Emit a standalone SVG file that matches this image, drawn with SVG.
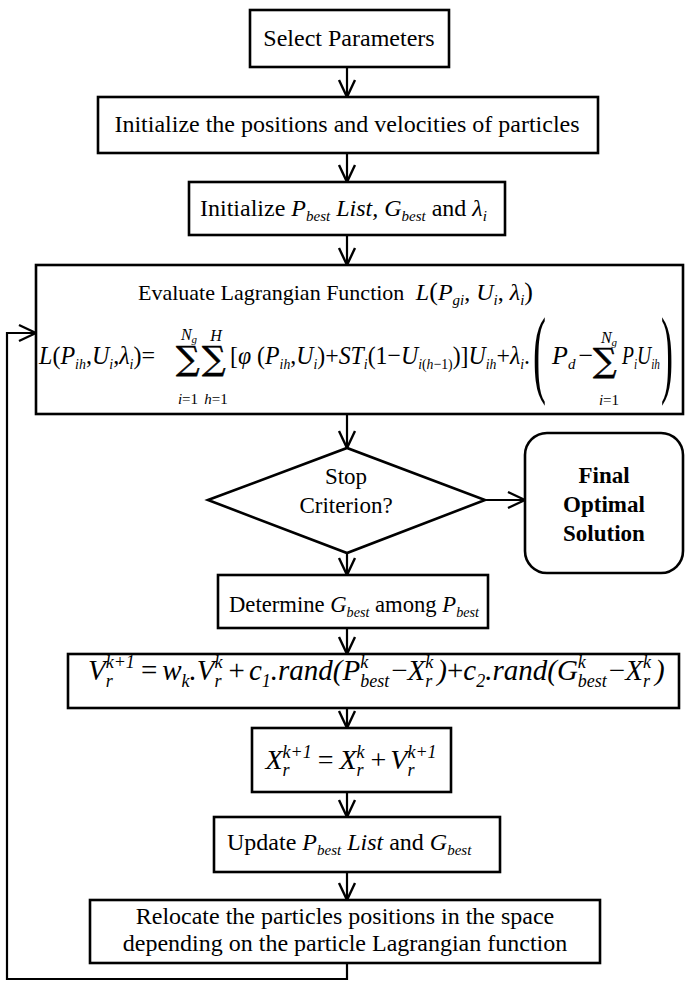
<svg xmlns="http://www.w3.org/2000/svg" width="685" height="981" viewBox="0 0 685 981">
<defs>
<style>
.box{fill:#fff;stroke:#000;stroke-width:2.6}
.t{font-family:"Liberation Serif","Times New Roman",serif;font-size:24px;fill:#000}
.m{font-family:"Liberation Serif","Times New Roman",serif;font-style:italic;fill:#000}
.u{font-style:normal}
.s{font-size:15px}
.s2{font-size:18px}
.lim{font-family:"Liberation Serif","Times New Roman",serif;font-size:15px;fill:#000}
.sig{font-family:"DejaVu Serif","Liberation Serif",serif;font-size:33px;fill:#000;stroke:#000;stroke-width:0.6}
.b{font-weight:bold;font-size:23px}
.con{fill:none;stroke:#000;stroke-width:2.2}
</style>
<marker id="ah" viewBox="0 0 20 20" refX="19" refY="10" markerWidth="20" markerHeight="20" markerUnits="userSpaceOnUse" orient="auto">
<path d="M2,2 L19,10 L2,18" fill="none" stroke="#000" stroke-width="2.4"/>
</marker>
</defs>
<rect width="685" height="981" fill="#fff"/>

<g id="select"><rect class="box" x="250" y="10" width="199" height="57"/><text class="t" x="349" y="46" text-anchor="middle">Select Parameters</text></g>

<g id="init"><rect class="box" x="98" y="97" width="500" height="56"/><text class="t" x="347" y="132" text-anchor="middle">Initialize the positions and velocities of particles</text></g>

<g id="init-best"><rect class="box" x="189" y="182" width="316" height="53"/><text class="t" x="200" y="216">Initialize <tspan class="m">P</tspan><tspan class="m s" dy="5">best</tspan><tspan class="m" dy="-5"> List, G</tspan><tspan class="m s" dy="5">best</tspan><tspan dy="-5"> and </tspan><tspan class="m">λ</tspan><tspan class="m s" dy="5">i</tspan></text></g>

<g id="evaluate"><rect class="box" x="36" y="265" width="647" height="149"/>
<text class="t" x="138" y="300" style="font-size:22px">Evaluate Lagrangian Function <tspan class="m" dx="6" style="font-size:24px">L</tspan><tspan style="font-size:26px">(</tspan><tspan class="m" style="font-size:24px">P</tspan><tspan class="m s" dy="5">gi</tspan><tspan dy="-5" style="font-size:24px">, </tspan><tspan class="m" style="font-size:24px">U</tspan><tspan class="m s" dy="5">i</tspan><tspan dy="-5" style="font-size:24px">, </tspan><tspan class="m" style="font-size:24px">λ</tspan><tspan class="m s" dy="5">i</tspan><tspan dy="-5" style="font-size:26px">)</tspan></text>
<text class="m" x="39" y="364" style="font-size:26px" textLength="116" lengthAdjust="spacingAndGlyphs">L<tspan class="u">(</tspan>P<tspan class="s" dy="5">ih</tspan><tspan class="u" dy="-5">,</tspan>U<tspan class="s" dy="5">i</tspan><tspan class="u" dy="-5">,</tspan>λ<tspan class="s" dy="5">i</tspan><tspan class="u" dy="-5">)=</tspan></text>
<text class="sig" x="176" y="370">∑</text>
<text class="sig" x="202" y="370">∑</text>
<text class="m" x="189" y="340" text-anchor="middle" style="font-size:16px">N<tspan style="font-size:11px" dy="3">g</tspan></text>
<text class="m" x="216" y="341" text-anchor="middle" style="font-size:16px">H</text>
<text class="lim" x="188" y="404" text-anchor="middle"><tspan class="m">i</tspan>=1</text>
<text class="lim" x="216" y="404" text-anchor="middle"><tspan class="m">h</tspan>=1</text>
<text class="m" x="230" y="364" style="font-size:26px" textLength="300" lengthAdjust="spacingAndGlyphs"><tspan class="u">[</tspan>φ<tspan class="u"> (</tspan>P<tspan class="s" dy="5">ih</tspan><tspan class="u" dy="-5">,</tspan>U<tspan class="s" dy="5">i</tspan><tspan class="u" dy="-5">)+</tspan>ST<tspan class="s" dy="5">i</tspan><tspan class="u" dy="-5">(1−</tspan>U<tspan class="s" dy="5">i<tspan class="u">(</tspan>h<tspan class="u">−1)</tspan></tspan><tspan class="u" dy="-5">)]</tspan>U<tspan class="s" dy="5">ih</tspan><tspan class="u" dy="-5">+</tspan>λ<tspan class="s" dy="5">i</tspan><tspan class="u" dy="-5">.</tspan></text>
<text class="t" x="533" y="385" style="font-size:97px" textLength="13" lengthAdjust="spacingAndGlyphs">(</text>
<text class="m" x="552" y="364" style="font-size:26px">P<tspan class="s" dy="5">d</tspan><tspan class="u" dy="-5" dx="3">−</tspan></text>
<text class="sig" x="593" y="372">∑</text>
<text class="m" x="609" y="343" text-anchor="middle" style="font-size:16px">N<tspan style="font-size:11px" dy="3">g</tspan></text>
<text class="lim" x="609" y="405" text-anchor="middle"><tspan class="m">i</tspan>=1</text>
<text class="m" x="622" y="364" style="font-size:26px" textLength="38" lengthAdjust="spacingAndGlyphs">P<tspan class="s" dy="5">i</tspan><tspan dy="-5">U</tspan><tspan class="s" dy="5">ih</tspan></text>
<text class="t" x="661" y="385" style="font-size:97px" textLength="12" lengthAdjust="spacingAndGlyphs">)</text>
</g>

<g id="stop"><polygon class="box" points="208,500 347,448 485,500 347,553"/><text class="t" x="346" y="484" text-anchor="middle" style="font-size:23px">Stop</text><text class="t" x="346" y="513" text-anchor="middle" style="font-size:23px">Criterion?</text></g>

<g id="final"><rect class="box" x="525" y="433" width="158" height="140" rx="22"/><text class="t b" x="604" y="483" text-anchor="middle">Final</text><text class="t b" x="604" y="512" text-anchor="middle">Optimal</text><text class="t b" x="604" y="541" text-anchor="middle">Solution</text></g>

<g id="determine"><rect class="box" x="218" y="575" width="270" height="53"/><text class="t" x="229" y="612" textLength="250" lengthAdjust="spacingAndGlyphs">Determine <tspan class="m">G</tspan><tspan class="m s" dy="5">best</tspan><tspan dy="-5"> among </tspan><tspan class="m">P</tspan><tspan class="m s" dy="5">best</tspan></text></g>

<g id="velocity"><rect class="box" x="68" y="654" width="611" height="54"/><text class="m" x="88" y="680" style="font-size:29px">V<tspan class="s2" dy="7">r</tspan><tspan class="s2" dx="-7" dy="-19">k+1</tspan><tspan class="u" dx="6" dy="12">=</tspan><tspan dx="5">w</tspan><tspan class="s2" dy="7">k</tspan><tspan dy="-7">.V</tspan><tspan class="s2" dy="7">r</tspan><tspan class="s2" dx="-7" dy="-19">k</tspan><tspan class="u" dx="6" dy="12">+</tspan><tspan dx="4">c</tspan><tspan class="s2" dy="7">1</tspan><tspan dy="-7">.rand(P</tspan><tspan class="s2" dy="-12">k</tspan><tspan class="s2" dx="-8" dy="19">best</tspan><tspan class="u" dx="2" dy="-7">−</tspan><tspan>X</tspan><tspan class="s2" dy="7">r</tspan><tspan class="s2" dx="-7" dy="-19">k</tspan><tspan dx="4" dy="12">)</tspan><tspan class="u">+</tspan><tspan>c</tspan><tspan class="s2" dy="7">2</tspan><tspan dy="-7">.rand(G</tspan><tspan class="s2" dy="-12">k</tspan><tspan class="s2" dx="-8" dy="19">best</tspan><tspan class="u" dx="2" dy="-7">−</tspan><tspan>X</tspan><tspan class="s2" dy="7">r</tspan><tspan class="s2" dx="-7" dy="-19">k</tspan><tspan dx="4" dy="12">)</tspan></text></g>

<g id="position"><rect class="box" x="252" y="728" width="199" height="64"/><text class="m" x="351" y="769" text-anchor="middle" style="font-size:28px">X<tspan class="s2" dy="7">r</tspan><tspan class="s2" dx="-7" dy="-18">k+1</tspan><tspan class="u" dx="6" dy="11">=</tspan><tspan dx="6">X</tspan><tspan class="s2" dy="7">r</tspan><tspan class="s2" dx="-7" dy="-18">k</tspan><tspan class="u" dx="6" dy="11">+</tspan><tspan dx="4">V</tspan><tspan class="s2" dy="7">r</tspan><tspan class="s2" dx="-7" dy="-18">k+1</tspan></text></g>

<g id="update"><rect class="box" x="214" y="817" width="286" height="55"/><text class="t" x="227" y="850">Update <tspan class="m">P</tspan><tspan class="m s" dy="5">best</tspan><tspan class="m" dy="-5"> List</tspan><tspan> and </tspan><tspan class="m">G</tspan><tspan class="m s" dy="5">best</tspan></text></g>

<g id="relocate"><rect class="box" x="90" y="900" width="510" height="63"/><text class="t" x="345" y="924" text-anchor="middle">Relocate the particles positions in the space</text><text class="t" x="345" y="951" text-anchor="middle">depending on the particle Lagrangian function</text></g>

<g id="connectors">
<line class="con" x1="347" y1="67" x2="347" y2="97" marker-end="url(#ah)"/>
<line class="con" x1="347" y1="153" x2="347" y2="182" marker-end="url(#ah)"/>
<line class="con" x1="347" y1="235" x2="347" y2="265" marker-end="url(#ah)"/>
<line class="con" x1="347" y1="414" x2="347" y2="448" marker-end="url(#ah)"/>
<line class="con" x1="485" y1="500" x2="525" y2="500" marker-end="url(#ah)"/>
<line class="con" x1="347" y1="553" x2="347" y2="575" marker-end="url(#ah)"/>
<line class="con" x1="347" y1="628" x2="347" y2="654" marker-end="url(#ah)"/>
<line class="con" x1="347" y1="708" x2="347" y2="728" marker-end="url(#ah)"/>
<line class="con" x1="347" y1="792" x2="347" y2="817" marker-end="url(#ah)"/>
<line class="con" x1="347" y1="872" x2="347" y2="900" marker-end="url(#ah)"/>
<polyline class="con" points="347,963 347,979 7,979 7,333 36,333" marker-end="url(#ah)"/>
</g>
</svg>
